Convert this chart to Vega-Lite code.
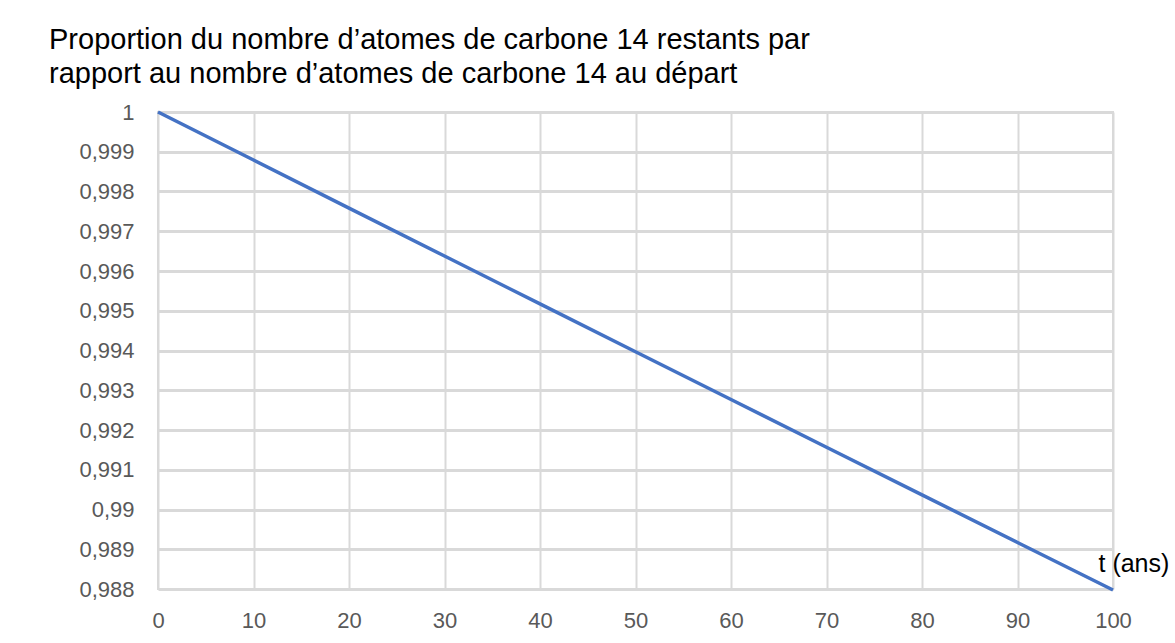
{
  "$schema": "https://vega.github.io/schema/vega-lite/v6.json",
  "width": 955,
  "height": 477,
  "autosize": {"type": "none"},
  "padding": {"left": 158, "top": 112, "right": 62, "bottom": 54},
  "background": "white",
  "title": {
    "text": ["Proportion du nombre d’atomes de carbone 14 restants par", "rapport au nombre d’atomes de carbone 14 au départ"],
    "anchor": "start",
    "frame": "group",
    "dx": -109,
    "offset": 12,
    "font": "Liberation Sans",
    "fontSize": 29,
    "fontWeight": "normal",
    "color": "#000000",
    "lineHeight": 34
  },
  "data": {
    "values": [
      {"t": 0, "p": 1.0},
      {"t": 10, "p": 0.998791},
      {"t": 20, "p": 0.997583},
      {"t": 30, "p": 0.996377},
      {"t": 40, "p": 0.995172},
      {"t": 50, "p": 0.993969},
      {"t": 60, "p": 0.992767},
      {"t": 70, "p": 0.991567},
      {"t": 80, "p": 0.990368},
      {"t": 90, "p": 0.989171},
      {"t": 100, "p": 0.987975}
    ]
  },
  "mark": {"type": "line", "color": "#4472C4", "strokeWidth": 3.5, "clip": false},
  "encoding": {
    "x": {
      "field": "t",
      "type": "quantitative",
      "scale": {"domain": [0, 100], "nice": false, "zero": false},
      "axis": {
        "values": [0, 10, 20, 30, 40, 50, 60, 70, 80, 90, 100],
        "title": "t (ans)",
        "titleX": 940,
        "titleY": -18,
        "titleAlign": "left",
        "titleBaseline": "alphabetic",
        "titleAnchor": null,
        "titleFont": "Liberation Sans",
        "titleFontSize": 25,
        "titleFontWeight": "normal",
        "titleColor": "#000000",
        "labelFont": "Liberation Sans",
        "labelFontSize": 22,
        "labelColor": "#595959",
        "labelPadding": 21,
        "labelFlush": false,
        "labelOverlap": false,
        "ticks": false,
        "domain": false,
        "grid": true,
        "gridColor": "#d9d9d9",
        "gridWidth": 2
      }
    },
    "y": {
      "field": "p",
      "type": "quantitative",
      "scale": {"domain": [0.988, 1], "nice": false, "zero": false},
      "axis": {
        "values": [0.988, 0.989, 0.99, 0.991, 0.992, 0.993, 0.994, 0.995, 0.996, 0.997, 0.998, 0.999, 1],
        "labelExpr": "replace(format(datum.value, '~g'), '.', ',')",
        "title": null,
        "labelFont": "Liberation Sans",
        "labelFontSize": 22,
        "labelColor": "#595959",
        "labelPadding": 24,
        "labelOverlap": false,
        "ticks": false,
        "domain": false,
        "grid": true,
        "gridColor": "#d9d9d9",
        "gridWidth": 3
      }
    }
  },
  "config": {
    "view": {"stroke": "#d9d9d9", "strokeWidth": 2}
  }
}
